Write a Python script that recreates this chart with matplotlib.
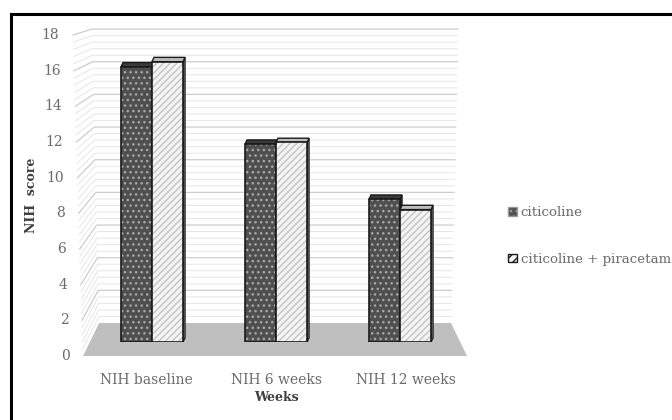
import numpy as np
import matplotlib.pyplot as plt
from matplotlib.patches import Polygon, Patch
from matplotlib.lines import Line2D

plt.rcParams['font.family'] = 'DejaVu Serif'
plt.rcParams['hatch.linewidth'] = 1.0

weeks = ['NIH baseline', 'NIH 6 weeks', 'NIH 12 weeks']
citicoline = [16.0, 11.5, 8.3]
citicoline_piracetam = [16.3, 11.6, 7.7]
series_names = ['citicoline', 'citicoline + piracetam']
y_ticks = list(range(0, 19, 2))

TXT = '#6b6b6b'
TITLE = '#3f3f3f'


# pseudo 3-d frame: bars stand between the front edge and the back wall
def front_y(v):
    return -0.814 + 1.0368 * v


def back_y(v):
    return 1.105 + 0.9494 * v


def left_x(v, depth):
    front = -0.556 - 0.0045 * v
    back = -0.427 - 0.0032 * v
    return front + (back - front) * depth


def right_x(v):
    return 2.411 + 0.0032 * v


def front_x(x):
    # category positions projected to the front edge of the floor
    return 1 + (x - 1) * 1.049


fig = plt.figure(figsize=(6.72, 4.2), dpi=100)
ax = fig.add_axes([0.1155, 0.1857, 0.5905, 0.7371])
ax.set_xlim(-0.6, 2.6)
ax.set_ylim(0, 18)
for s in ax.spines.values():
    s.set_visible(False)
ax.set_yticks([])

# floor
floor = Polygon([(left_x(0, 0), front_y(0)), (left_x(0, 1), back_y(0)),
                 (right_x(0), back_y(0)), (2.540, front_y(0))],
                closed=True, facecolor='#bfbfbf', edgecolor='none',
                clip_on=False, zorder=0)
ax.add_patch(floor)

# gridlines on side wall and back wall (major every 2, minor every 0.4)
for v in np.arange(0.4, 18.01, 0.4):
    major = abs(v / 2 - round(v / 2)) < 1e-6
    xs = [left_x(v, 0), left_x(v, 1), right_x(v)]
    ys = [front_y(v), back_y(v), back_y(v)]
    ax.plot(xs, ys, color='#cdcdcd' if major else '#e6e6e6',
            lw=0.9 if major else 0.7, clip_on=False, zorder=0.5)

# value labels along the front edge
for v in y_ticks:
    ax.text(left_x(v, 0) - 0.11, front_y(v), str(v), ha='right', va='center',
            fontsize=10, color=TXT)

x = np.arange(len(weeks))
w = 0.25
dx, dz = 0.016, 0.25


def draw_series(xpos, vals, face, hatch, hatch_col, top_col, z):
    ax.bar(xpos, vals, w, color=face, edgecolor='none', zorder=z)
    ax.bar(xpos, vals, w, color='none', edgecolor=hatch_col, hatch=hatch,
           linewidth=0, zorder=z + 0.1)
    ax.bar(xpos, vals, w, color='none', edgecolor='#1a1a1a', linewidth=1.2,
           zorder=z + 0.2)
    for xc, v in zip(xpos, vals):
        x0, x1 = xc - w / 2, xc + w / 2
        top = Polygon([(x0, v), (x1, v), (x1 + dx, v + dz), (x0 + dx, v + dz)],
                      closed=True, facecolor=top_col, edgecolor='#1a1a1a',
                      lw=1.0, zorder=z - 0.1)
        side = Polygon([(x1, 0), (x1, v), (x1 + dx, v + dz), (x1 + dx, dz)],
                       closed=True, facecolor=top_col, edgecolor='#1a1a1a',
                       lw=1.0, zorder=z - 0.1)
        ax.add_patch(side)
        ax.add_patch(top)


draw_series(x - w / 2, citicoline, '#4f4f4f', '...', '#a8a8a8', '#3a3a3a', 2)
draw_series(x + w / 2, citicoline_piracetam, '#f4f4f4', '/////', '#c4c4c4',
            '#bdbdbd', 3)

ax.set_xticks(front_x(x))
ax.set_xticklabels(weeks, fontsize=10, color=TXT)
ax.tick_params(axis='x', length=0, pad=22)
ax.set_xlabel('Weeks', fontsize=9, fontweight='bold', color=TITLE, labelpad=3)
ax.set_ylabel('NIH  score', fontsize=9, fontweight='bold', color=TITLE)
ax.yaxis.set_label_coords(-0.10, 0.475)

handles = [Patch(facecolor='#4f4f4f', edgecolor='#9a9a9a', hatch='...'),
           Patch(facecolor='#f4f4f4', edgecolor='#1a1a1a', hatch='////')]
fig.legend(handles, series_names, loc='center left',
           bbox_to_anchor=(0.738, 0.438), frameon=False, fontsize=9.6,
           labelcolor=TXT, handlelength=0.65, handleheight=0.65,
           handletextpad=0.3, labelspacing=2.5)

# chart border (top and left)
fig.add_artist(Line2D([11 / 672, 1], [1 - 14 / 420, 1 - 14 / 420],
                      transform=fig.transFigure, color='black', lw=2.2))
fig.add_artist(Line2D([11 / 672, 11 / 672], [0, 1 - 14 / 420],
                      transform=fig.transFigure, color='black', lw=2.2))

fig.savefig('out.png', dpi=100, facecolor='white')
